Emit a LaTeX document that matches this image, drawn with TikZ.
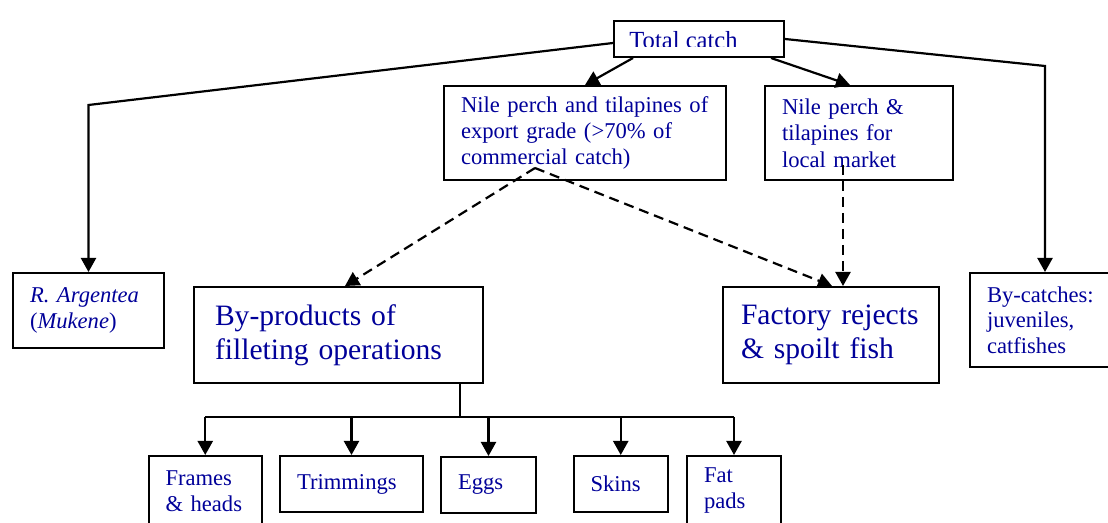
\documentclass[tikz,border=0pt]{standalone}
\usepackage{fontspec}
\setmainfont{Liberation Serif}
\usepackage{xcolor}
\usetikzlibrary{arrows.meta,calc,positioning}
\definecolor{catchBlue}{HTML}{000099}
\newcommand{\boxtext}{\fontsize{11.3}{13.2}\selectfont}
\newcommand{\bigtext}{\fontsize{14.8}{17}\selectfont}

\begin{document}
\begin{tikzpicture}[x=0.5pt,y=-0.5pt]
  \tikzset{catchbox/.style={draw,line width=1pt,anchor=north west,align=left,text=catchBlue,inner ysep=0pt,inner xsep=8.5pt,font=\boxtext},
    bigbox/.style={catchbox,inner xsep=10.5pt,font=\bigtext},
    flow/.style={line width=1.1pt,-{Triangle[length=7pt,width=7.5pt]}},
    dashflow/.style={flow,dash pattern=on 5pt off 3pt}}
  \clip (0,0) rectangle (1108,523);
  % top of the tree
  \node[catchbox,minimum width=85pt,minimum height=18pt] (total) at (613,20) {};
  \begin{scope}
    \clip (613,20) rectangle (783,47);
    \node[anchor=base west,inner sep=0pt,text=catchBlue,font=\fontsize{12.3}{14}\selectfont] (totallabel) at (629,49) {Total catch};
  \end{scope}
  \node[catchbox,text width=124pt,minimum height=47pt] (export) at (443,85) {Nile perch and tilapines of\\export grade (>70\% of\\commercial catch)};
  \node[catchbox,text width=77pt,minimum height=47pt] (local) at (764,85) {Nile perch \&\\tilapines for\\local market};
  \node[catchbox,text width=58.5pt,minimum height=37.5pt] (rarg) at (12,272) {\textit{R. Argentea}\\(\textit{Mukene})};
  \node[catchbox,text width=58pt,minimum height=47pt,font=\fontsize{11.3}{12.8}\selectfont] (bycatch) at (969,272) {By-catches:\\juveniles,\\catfishes};
  % middle row
  \node[bigbox,text width=123.5pt,minimum height=48pt] (byprod) at (193,286) {By-products of\\filleting operations};
  \node[bigbox,text width=90pt,inner xsep=9pt,minimum height=48pt] (factory) at (722,286) {Factory rejects\\\& spoilt fish};
  % filleting by-products
  \node[catchbox,text width=39.75pt,minimum height=35pt,font=\fontsize{11.3}{13}\selectfont] (frames) at (147.5,455) {Frames\\\& heads};
  \node[catchbox,text width=54.5pt,minimum height=28pt] (trim) at (279,455) {Trimmings};
  \node[catchbox,text width=30.5pt,minimum height=28pt] (eggs) at (440,456) {Eggs};
  \node[catchbox,text width=30.25pt,minimum height=28pt] (skins) at (572.5,455) {Skins};
  \node[catchbox,text width=30pt,minimum height=35pt,font=\fontsize{11.3}{13}\selectfont] (fat) at (686,455) {Fat\\pads};
  % connectors
  \draw[flow] ([xshift=10pt]total.south west) -- ([xshift=71pt]export.north west);
  \draw[flow] ([xshift=79pt]total.south west) -- ([xshift=43pt]local.north west);
  \coordinate (leftbend) at (rarg.north |- 0,105);
  \coordinate (rightbend) at (bycatch.north |- 0,66);
  \draw[flow] ([yshift=-2pt]total.west) -- (leftbend) -- (rarg.north);
  \draw[flow] (total.east) -- (rightbend) -- (bycatch.north);
  \coordinate (exportfork) at ([xshift=46pt,yshift=6.5pt]export.south west);
  \coordinate (localfork) at ([xshift=39.5pt,yshift=8pt]local.south west);
  \draw[dashflow] (exportfork) -- ([xshift=76pt]byprod.north west);
  \draw[dashflow] (exportfork) -- ([xshift=55pt]factory.north west);
  \draw[dashflow] (localfork) -- (localfork |- factory.north);
  \coordinate (bar) at (0,417);
  \draw[line width=1.1pt] ([xshift=133.5pt]byprod.south west) -- ([xshift=133.5pt]byprod.south west |- bar);
  \draw[line width=1.1pt] (frames.north |- bar) -- (fat.north |- bar);
  \foreach \part in {frames,trim,eggs,skins,fat}
    \draw[flow] (\part.north |- bar) -- (\part.north);
\end{tikzpicture}
\end{document}
